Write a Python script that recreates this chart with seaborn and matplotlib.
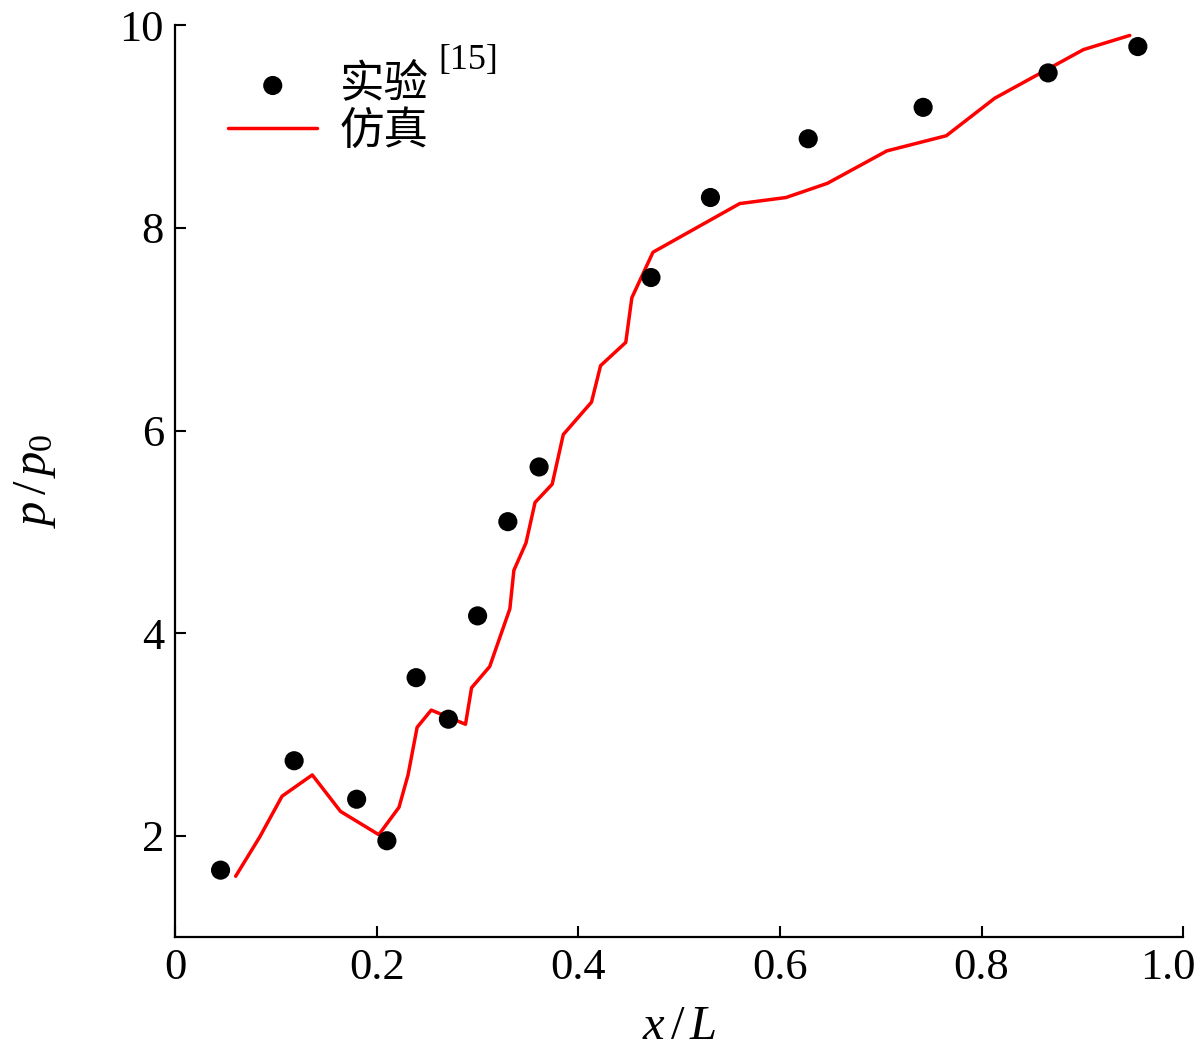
import numpy as np
import pandas as pd
import matplotlib
matplotlib.use("Agg")
import matplotlib.pyplot as plt
import matplotlib.transforms as mtransforms
import seaborn as sns

# experiment points (x/L, p/p0)
exp_x = [0.045, 0.118, 0.180, 0.210, 0.239, 0.271, 0.300, 0.330, 0.361, 0.472, 0.531, 0.628, 0.742, 0.866, 0.955]
exp_y = [1.66, 2.74, 2.36, 1.95, 3.56, 3.15, 4.17, 5.10, 5.64, 7.51, 8.30, 8.88, 9.19, 9.53, 9.79]

# simulation curve
sim_x = [0.060, 0.084, 0.106, 0.136, 0.164, 0.202, 0.222, 0.231, 0.240, 0.254, 0.288, 0.294,
         0.312, 0.332, 0.336, 0.348, 0.357, 0.374, 0.385, 0.413, 0.422, 0.447, 0.453, 0.474,
         0.560, 0.606, 0.647, 0.706, 0.765, 0.813, 0.901, 0.947]
sim_y = [1.60, 1.99, 2.39, 2.60, 2.24, 2.01, 2.28, 2.60, 3.07, 3.24, 3.10, 3.46,
         3.67, 4.24, 4.62, 4.89, 5.29, 5.47, 5.96, 6.28, 6.64, 6.87, 7.31, 7.76,
         8.24, 8.30, 8.44, 8.76, 8.91, 9.28, 9.76, 9.90]

x_ticks = [0, 0.2, 0.4, 0.6, 0.8, 1.0]
x_ticklabels = ["0", "0.2", "0.4", "0.6", "0.8", "1.0"]
y_ticks = [2, 4, 6, 8, 10]
y_ticklabels = ["2", "4", "6", "8", "10"]

sns.set_style("ticks")
plt.rcParams['font.family'] = ['Liberation Serif', 'Noto Sans CJK SC']
plt.rcParams['mathtext.fontset'] = 'custom'
plt.rcParams['mathtext.rm'] = 'Liberation Serif'
plt.rcParams['mathtext.it'] = 'Liberation Serif:italic'
plt.rcParams['xtick.direction'] = 'in'
plt.rcParams['ytick.direction'] = 'in'
for k in ['text.color', 'axes.labelcolor', 'xtick.color', 'ytick.color', 'axes.edgecolor']:
    plt.rcParams[k] = 'black'

exp_df = pd.DataFrame({"x": exp_x, "y": exp_y})
sim_df = pd.DataFrame({"x": sim_x, "y": sim_y})

fig = plt.figure(figsize=(12, 10.54), dpi=100)
ax = fig.add_axes([0.146, 0.111, 0.840, 0.865])

sns.scatterplot(data=exp_df, x="x", y="y", color="black", s=190, edgecolor="none",
                label="实验", ax=ax, zorder=3)
sns.lineplot(data=sim_df, x="x", y="y", color="red", linewidth=2.5, sort=False,
             label="仿真", ax=ax)

ax.set_xlim(0, 1.0)
ax.set_ylim(1.0, 10)
ax.set_xticks(x_ticks)
ax.set_xticklabels(x_ticklabels)
ax.set_yticks(y_ticks)
ax.set_yticklabels(y_ticklabels)
ax.tick_params(direction="in", length=8, width=1.5, labelsize=32, pad=8)
for s in ["left", "bottom"]:
    ax.spines[s].set_linewidth(1.6)
sns.despine(ax=ax)

# last x label sits a bit left of its tick, as in the source figure
last = ax.get_xticklabels()[-1]
last.set_transform(last.get_transform() + mtransforms.ScaledTranslation(-15 / 100, 0, fig.dpi_scale_trans))

ax.set_xlabel(r"$x\,/\,L$", fontsize=35, labelpad=12)
ax.set_ylabel(r"$p\,/\,p_0$", fontsize=35, labelpad=44)

leg = ax.legend(loc="upper left", bbox_to_anchor=(0.013, 1.001), frameon=False,
                fontsize=32, handlelength=2.0, handletextpad=0.5, labelspacing=0.1,
                markerscale=1.0)
ax.text(0.261, 0.979, "[15]", transform=ax.transAxes, fontsize=26,
        ha="left", va="top")

plt.savefig("out.png", dpi=100)
